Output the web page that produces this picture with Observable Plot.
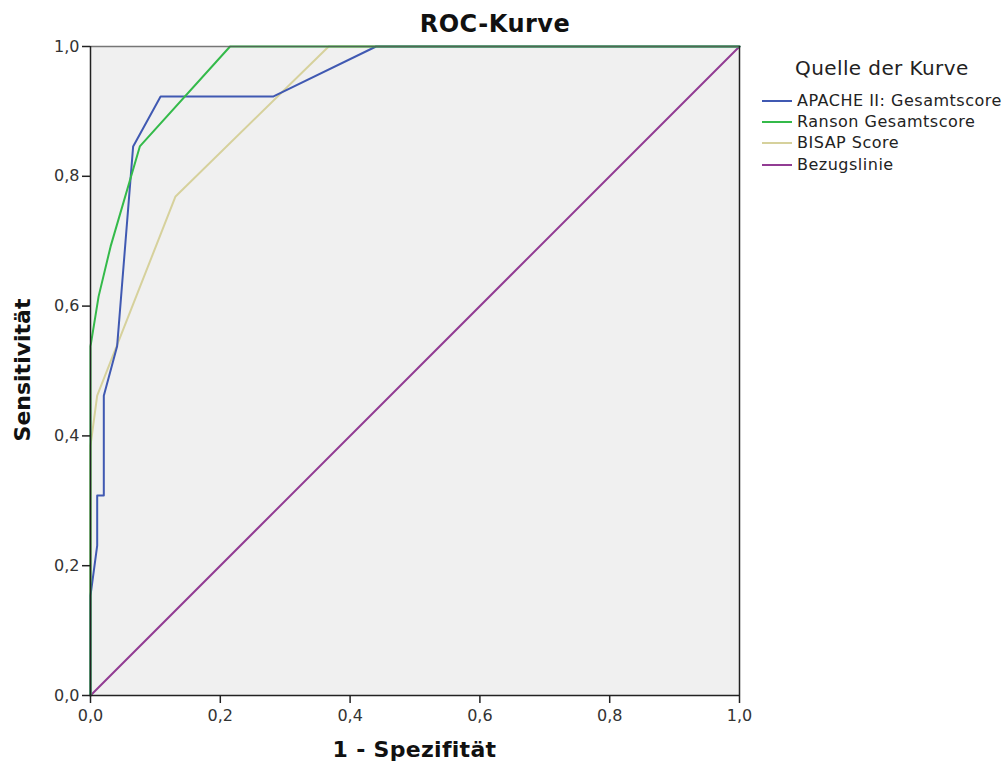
<!DOCTYPE html>
<html>
<head>
<meta charset="utf-8">
<script src="https://cdn.jsdelivr.net/npm/d3@7"></script>
<script src="https://cdn.jsdelivr.net/npm/@observablehq/plot@0.6"></script>
<style>
  html, body { margin: 0; padding: 0; background: #fff; }
  #wrap { position: relative; width: 1008px; height: 769px; font-family: "DejaVu Sans", sans-serif; color: #111; }
  #wrap .abs { position: absolute; white-space: nowrap; }
  #title { left: 0; width: 990px; top: 10px; text-align: center; font-weight: bold; font-size: 24px; letter-spacing: 0.5px; }
  #xlabel { left: 90px; width: 649px; top: 737px; text-align: center; font-weight: bold; font-size: 22px; letter-spacing: 0.3px; }
  #ylabel { left: 22px; top: 370px; font-weight: bold; font-size: 22px; transform: translate(-50%, -50%) rotate(-90deg); }
  #legTitle { left: 795px; top: 56px; font-size: 20px; letter-spacing: 0.4px; color: #222; }
  .legRow { left: 762px; font-size: 16px; letter-spacing: 0.5px; color: #222; display: flex; align-items: center; }
  .legRow .sw { width: 30px; height: 2px; margin-right: 5px; }
</style>
</head>
<body>
<div id="wrap">
  <div id="chart" class="abs" style="left:0;top:0"></div>
  <div id="title" class="abs">ROC-Kurve</div>
  <div id="xlabel" class="abs">1 - Spezifität</div>
  <div id="ylabel" class="abs">Sensitivität</div>
  <div id="legTitle" class="abs">Quelle der Kurve</div>
  <div id="legend"></div>
</div>
<script>
// ---- data ----
const seriesNames = ["APACHE II: Gesamtscore", "Ranson Gesamtscore", "BISAP Score", "Bezugslinie"];
const seriesColors = ["#4059B2", "#34BA4A", "#D6D19C", "#923C93"];

const apacheX = [0, 0, 0.0103, 0.0103, 0.0205, 0.0205, 0.041, 0.0657, 0.108, 0.282, 0.44, 1];
const apacheY = [0, 0.154, 0.231, 0.308, 0.308, 0.462, 0.538, 0.846, 0.923, 0.923, 1, 1];

const ransonX = [0, 0, 0.0125, 0.031, 0.076, 0.215, 1];
const ransonY = [0, 0.538, 0.615, 0.692, 0.846, 1, 1];

const bisapX = [0, 0, 0.0103, 0.131, 0.367, 1];
const bisapY = [0, 0.385, 0.462, 0.769, 1, 1];

const refX = [0, 1];
const refY = [0, 1];

const tickValues = [0, 0.2, 0.4, 0.6, 0.8, 1.0];
const tickLabels = ["0,0", "0,2", "0,4", "0,6", "0,8", "1,0"];

// ---- build rows ----
const toRows = (xs, ys, name) => xs.map((x, i) => ({x, y: ys[i], series: name}));
const rows = [
  ...toRows(refX, refY, seriesNames[3]),
  ...toRows(bisapX, bisapY, seriesNames[2]),
  ...toRows(apacheX, apacheY, seriesNames[0]),
  ...toRows(ransonX, ransonY, seriesNames[1])
];
const drawOrder = [seriesNames[3], seriesNames[2], seriesNames[0], seriesNames[1]];
const fmt = d => tickLabels[tickValues.findIndex(t => Math.abs(t - d) < 1e-9)];

const chart = Plot.plot({
  width: 1008,
  height: 769,
  marginLeft: 90,
  marginRight: 269,
  marginTop: 46,
  marginBottom: 74,
  style: {fontFamily: "DejaVu Sans, sans-serif", fontSize: "15px", color: "#333", background: "transparent"},
  x: {domain: [0, 1], label: null},
  y: {domain: [0, 1], label: null},
  color: {domain: seriesNames, range: seriesColors},
  marks: [
    Plot.frame({fill: "#f0f0f0", stroke: null}),
    ...drawOrder.map(name =>
      Plot.line(rows.filter(r => r.series === name), {x: "x", y: "y", stroke: "series", strokeWidth: 2, curve: "linear"})
    ),
    Plot.ruleY([1], {stroke: "#555", strokeWidth: 1.5, strokeOpacity: 0.8}),
    Plot.ruleX([1], {stroke: "#222", strokeWidth: 1.5}),
    Plot.ruleX([0], {stroke: "#222", strokeWidth: 1.5}),
    Plot.ruleY([0], {stroke: "#222", strokeWidth: 1.5}),
    Plot.axisX({ticks: tickValues, tickFormat: fmt, tickSize: 8, tickPadding: 6, fontSize: 16, label: null, strokeWidth: 1.5, stroke: "#222"}),
    Plot.axisY({ticks: tickValues, tickFormat: fmt, tickSize: 8, tickPadding: 3, fontSize: 16, label: null, strokeWidth: 1.5, stroke: "#222"})
  ]
});
document.getElementById("chart").appendChild(chart);

// ---- legend ----
const legend = document.getElementById("legend");
const legTops = [91, 112, 133, 155];
seriesNames.forEach((name, i) => {
  const row = document.createElement("div");
  row.className = "abs legRow";
  row.style.top = legTops[i] + "px";
  const sw = document.createElement("span");
  sw.className = "sw";
  sw.style.background = seriesColors[i];
  const tx = document.createElement("span");
  tx.textContent = name;
  row.appendChild(sw);
  row.appendChild(tx);
  legend.appendChild(row);
});
</script>
</body>
</html>
